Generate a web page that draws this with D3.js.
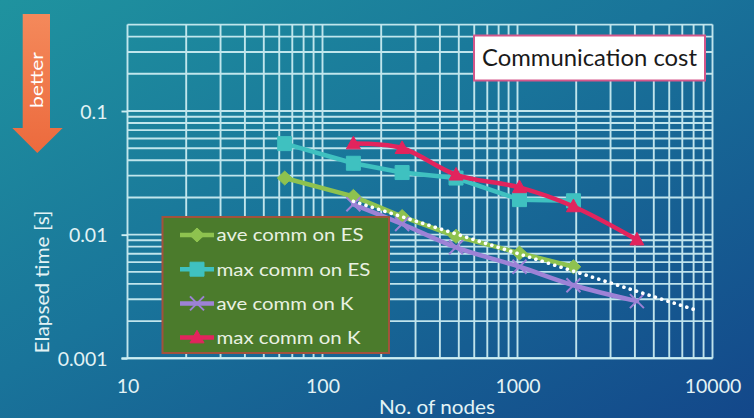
<!DOCTYPE html>
<html>
<head>
<meta charset="utf-8">
<script src="https://cdn.jsdelivr.net/npm/d3@7"></script>
<style>
  html, body { margin: 0; padding: 0; overflow: hidden; background: #17698f; }
  svg { display: block; }
  text { font-family: Lato, "Open Sans", sans-serif; }
</style>
</head>
<body>
<svg id="chart" width="754" height="418"></svg>
<script>
// Node counts per machine (ES = Earth Simulator, K = K computer)
const nodesES = [64, 144, 256, 484, 1024, 1936];
const nodesK = [144, 256, 484, 1024, 1936, 4096];

// Elapsed communication time [s]
const aveCommES = [0.0287, 0.0204, 0.0140, 0.0097, 0.0071, 0.0055];
const maxCommES = [0.0545, 0.0378, 0.0318, 0.0287, 0.0192, 0.0188];
const aveCommK = [0.0176, 0.0122, 0.0079, 0.0055, 0.0039, 0.0029];
const maxCommK = [0.0545, 0.0500, 0.0305, 0.0241, 0.0169, 0.0091];

// Ideal scaling reference (dotted)
const idealNodes = [144, 8192];
const idealTime = [0.0186, 0.00246];

const seriesNames = ["ave comm on ES", "max comm on ES", "ave comm on K", "max comm on K"];
const xTickValues = [10, 100, 1000, 10000];
const xTickLabels = ["10", "100", "1000", "10000"];
const yTickValues = [0.001, 0.01, 0.1];
const yTickLabels = ["0.001", "0.01", "0.1"];
const chartTitle = "Communication cost";
const xTitle = "No. of nodes";
const yTitle = "Elapsed time [s]";
const hintText = "better";

const svg = d3.select("#chart");
const W = 754, H = 418;

// ---- background ----
const defs = svg.append("defs");
const bg = defs.append("linearGradient").attr("id", "bg")
  .attr("x1", 0).attr("y1", 0).attr("x2", 1).attr("y2", 1);
bg.append("stop").attr("offset", 0).attr("stop-color", "#1f939f");
bg.append("stop").attr("offset", 0.45).attr("stop-color", "#19749a");
bg.append("stop").attr("offset", 1).attr("stop-color", "#13478a");
svg.append("rect").attr("width", W).attr("height", H).attr("fill", "url(#bg)");

const arrowGrad = defs.append("linearGradient").attr("id", "arrowGrad")
  .attr("x1", 0).attr("y1", 0).attr("x2", 0).attr("y2", 1);
arrowGrad.append("stop").attr("offset", 0).attr("stop-color", "#f4895b");
arrowGrad.append("stop").attr("offset", 1).attr("stop-color", "#ec6a3d");

// ---- scales ----
const x = d3.scaleLog().domain([10, 10000]).range([127.5, 712.5]);
const y = d3.scaleLog().domain([0.001, 0.5]).range([358.3, 24.6]);

// ---- grid (every minor decade step) ----
const gridColor = "#cdeef3";
const xGrid = [];
for (let e = 1; e <= 3; e++) for (let k = 1; k <= 9; k++) xGrid.push(k * Math.pow(10, e));
xGrid.push(10000);
const yGrid = [];
for (let e = -3; e <= -2; e++) for (let k = 1; k <= 9; k++) yGrid.push(+(k * Math.pow(10, e)).toPrecision(3));
for (let k = 1; k <= 5; k++) yGrid.push(k / 10);

const grid = svg.append("g").attr("stroke", gridColor).attr("stroke-width", 1.9).attr("opacity", 0.93);
grid.selectAll("line.v").data(xGrid).join("line").attr("class", "v")
  .attr("x1", d => x(d)).attr("x2", d => x(d))
  .attr("y1", y(0.5)).attr("y2", y(0.001));
grid.selectAll("line.h").data(yGrid).join("line").attr("class", "h")
  .attr("x1", x(10)).attr("x2", x(10000))
  .attr("y1", d => y(d)).attr("y2", d => y(d));

// ---- axes ----
const labelColor = "#e3f3f5";
const yAxis = svg.append("g").attr("transform", `translate(${x(10)},0)`)
  .call(d3.axisLeft(y).tickValues(yTickValues)
    .tickFormat((d, i) => yTickLabels[i]).tickSize(6).tickPadding(14));
yAxis.select(".domain").remove();
yAxis.selectAll(".tick line").attr("stroke", gridColor).attr("stroke-width", 1.9);
yAxis.selectAll(".tick text").attr("fill", labelColor).attr("font-size", 19.5)
  .attr("font-family", "Lato, sans-serif").attr("dy", "0.36em");

const xAxis = svg.append("g").attr("transform", `translate(0,${y(0.001)})`)
  .call(d3.axisBottom(x).tickValues(xTickValues)
    .tickFormat((d, i) => xTickLabels[i]).tickSize(0).tickPadding(21));
xAxis.select(".domain").remove();
xAxis.selectAll(".tick text").attr("fill", labelColor).attr("font-size", 19.5)
  .attr("font-family", "Lato, sans-serif");
svg.append("line").attr("x1", x(10) - 6).attr("x2", x(10000))
  .attr("y1", y(0.001)).attr("y2", y(0.001))
  .attr("stroke", gridColor).attr("stroke-width", 1.9);

// axis titles
svg.append("text").text(xTitle)
  .attr("x", 437).attr("y", 414).attr("text-anchor", "middle")
  .attr("fill", labelColor).attr("font-size", 19.5)
  .attr("textLength", 116).attr("lengthAdjust", "spacingAndGlyphs");
svg.append("text").text(yTitle)
  .attr("transform", "translate(49,282) rotate(-90)")
  .attr("text-anchor", "middle")
  .attr("fill", labelColor).attr("font-size", 18.5)
  .attr("textLength", 143).attr("lengthAdjust", "spacingAndGlyphs");

// ---- markers ----
function markerPath(kind, s) {
  const p = d3.path();
  if (kind === "diamond") {
    p.moveTo(0, -s); p.lineTo(s * 1.05, 0); p.lineTo(0, s); p.lineTo(-s * 1.05, 0); p.closePath();
  } else if (kind === "square") {
    p.rect(-s, -s, 2 * s, 2 * s);
  } else if (kind === "triangle") {
    p.moveTo(0, -s * 1.05); p.lineTo(s, s * 0.75); p.lineTo(-s, s * 0.75); p.closePath();
  } else if (kind === "x") {
    p.moveTo(-s, -s); p.lineTo(s, s); p.moveTo(s, -s); p.lineTo(-s, s);
  }
  return p.toString();
}

const series = [
  { name: seriesNames[0], nodes: nodesES, values: aveCommES, color: "#8ec24f", marker: "diamond", size: 7, curve: d3.curveLinear },
  { name: seriesNames[1], nodes: nodesES, values: maxCommES, color: "#3fc1c0", marker: "square", size: 7, curve: d3.curveLinear },
  { name: seriesNames[2], nodes: nodesK, values: aveCommK, color: "#9d82d6", marker: "x", size: 7, curve: d3.curveCatmullRom },
  { name: seriesNames[3], nodes: nodesK, values: maxCommK, color: "#e2245d", marker: "triangle", size: 7, curve: d3.curveCatmullRom }
];

const plot = svg.append("g");
series.forEach(s => {
  const pts = s.nodes.map((n, i) => [n, s.values[i]]);
  plot.append("path")
    .attr("d", d3.line().x(d => x(d[0])).y(d => y(d[1])).curve(s.curve)(pts))
    .attr("fill", "none").attr("stroke", s.color).attr("stroke-width", 4.5)
    .attr("stroke-linejoin", "round").attr("stroke-linecap", "round");
  plot.selectAll(null).data(pts).join("path")
    .attr("transform", d => `translate(${x(d[0])},${y(d[1])})`)
    .attr("d", markerPath(s.marker, s.size))
    .attr("fill", s.marker === "x" ? "none" : s.color)
    .attr("stroke", s.color)
    .attr("stroke-width", s.marker === "x" ? 2 : 1);
});

// ideal scaling reference
const idealPts = idealNodes.map((n, i) => [n, idealTime[i]]);
plot.append("path")
  .attr("d", d3.line().x(d => x(d[0])).y(d => y(d[1]))(idealPts))
  .attr("fill", "none").attr("stroke", "#ffffff").attr("stroke-width", 3.6)
  .attr("stroke-linecap", "round").attr("stroke-dasharray", "0.1 6.5");

// ---- legend ----
const lg = svg.append("g");
lg.append("rect").attr("x", 162.5).attr("y", 217).attr("width", 226.5).attr("height", 136)
  .attr("fill", "#4b7b2c").attr("stroke", "#a2523c").attr("stroke-width", 2);
const legendWidths = [147, 154, 137, 144];
series.forEach((s, i) => {
  const cy = 235 + i * 34.2;
  lg.append("line").attr("x1", 180).attr("x2", 214).attr("y1", cy).attr("y2", cy)
    .attr("stroke", s.color).attr("stroke-width", 4.5);
  lg.append("path").attr("transform", `translate(197,${cy})`)
    .attr("d", markerPath(s.marker, s.size))
    .attr("fill", s.marker === "x" ? "none" : s.color)
    .attr("stroke", s.color).attr("stroke-width", s.marker === "x" ? 2 : 1);
  lg.append("text").text(s.name)
    .attr("x", 216.5).attr("y", cy).attr("dy", "0.36em")
    .attr("fill", "#e9f1e2").attr("font-size", 17.5)
    .attr("textLength", legendWidths[i]).attr("lengthAdjust", "spacingAndGlyphs");
});

// ---- title box ----
svg.append("rect").attr("x", 474).attr("y", 35.5).attr("width", 231).attr("height", 45)
  .attr("fill", "#ffffff").attr("stroke", "#d4568a").attr("stroke-width", 2);
svg.append("text").text(chartTitle)
  .attr("x", 589.5).attr("y", 66).attr("text-anchor", "middle")
  .attr("fill", "#1a1a1a").attr("font-size", 22.5)
  .attr("textLength", 215).attr("lengthAdjust", "spacingAndGlyphs");

// ---- "better" arrow ----
const ar = d3.path();
ar.moveTo(22.7, 14); ar.lineTo(50, 14); ar.lineTo(50, 128); ar.lineTo(62.7, 128);
ar.lineTo(37.3, 153); ar.lineTo(12.3, 128); ar.lineTo(22.7, 128); ar.closePath();
svg.append("path").attr("d", ar.toString()).attr("fill", "url(#arrowGrad)");
svg.append("text").text(hintText)
  .attr("transform", "translate(37,80) rotate(-90)")
  .attr("text-anchor", "middle").attr("dy", "0.36em")
  .attr("fill", "#ffffff").attr("font-size", 18)
  .attr("textLength", 56).attr("lengthAdjust", "spacingAndGlyphs");
</script>
</body>
</html>
